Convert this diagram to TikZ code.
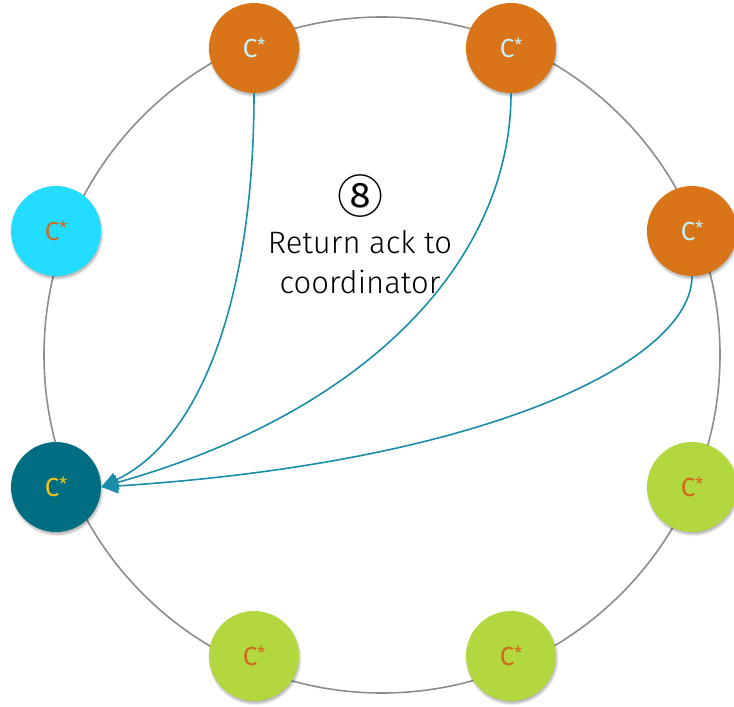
\documentclass[tikz,border=0pt]{standalone}
\usepackage{fontspec}
\setmainfont{Fira Sans}[UprightFont={* Light}]
\newfontfamily\nodefont{Fira Sans}
\newfontfamily\circfont{Noto Sans CJK SC}
\usetikzlibrary{arrows.meta,shadows.blur}

\definecolor{ringgray}{HTML}{8C8C8C}
\definecolor{nodeorange}{HTML}{D97518}
\definecolor{nodecyan}{HTML}{22DDFF}
\definecolor{nodeteal}{HTML}{006E82}
\definecolor{nodegreen}{HTML}{B3D73F}
\definecolor{txtcyan}{HTML}{C4F2FB}
\definecolor{txtorange}{HTML}{D2681B}
\definecolor{txtyellow}{HTML}{F4C21B}
\definecolor{ackline}{HTML}{1A8EA8}

% replica label: C with a small raised asterisk
\newcommand{\cstar}{C{\fontsize{18}{18}\selectfont\raisebox{0.35em}{*}}}

\tikzset{
  replica/.style={circle, minimum size=90pt, inner sep=0pt,
    font=\nodefont\fontsize{26}{26}\selectfont,
    blur shadow={shadow xshift=1pt, shadow yshift=-2.5pt,
                 shadow blur steps=6, shadow opacity=30}},
  orangenode/.style={replica, fill=nodeorange, text=txtcyan},
  cyannode/.style={replica, fill=nodecyan, text=txtorange},
  coordnode/.style={replica, fill=nodeteal, text=txtyellow},
  greennode/.style={replica, fill=nodegreen, text=txtorange},
  ack/.style={draw=ackline, line width=1.6pt,
    -{Triangle[length=17pt,width=15pt]}},
  ring/.style={draw=ringgray, line width=1.6pt},
  label/.style={align=center, text=black}
}

\begin{document}
\begin{tikzpicture}[x=1pt,y=-1pt]
  \useasboundingbox (0,0) rectangle (734,707);

  % the token ring
  \coordinate (ringc) at (382,355);
  \draw[ring] (ringc) circle[radius=338pt];

  % replicas on the ring
  \node[orangenode] (n1) at (254,48)  {\cstar};
  \node[orangenode] (n2) at (511,48)  {\cstar};
  \node[orangenode] (n3) at (692,231) {\cstar};
  \node[greennode]  (n4) at (692,487) {\cstar};
  \node[greennode]  (n5) at (511,656) {\cstar};
  \node[greennode]  (n6) at (254,656) {\cstar};
  \node[coordnode]  (co) at (56,487)  {\cstar};
  \node[cyannode]   (n8) at (56,231)  {\cstar};

  % acknowledgements sent back to the coordinator
  \draw[ack] (n1.south) .. controls (254,300) and (200,440) .. (co.east);
  \draw[ack] (n2.south) .. controls (511,255) and (375,410) .. (co.east);
  \draw[ack] (n3.south) .. controls (692,360) and (490,462) .. (co.east);

  % step label
  \node[label, font=\circfont\fontsize{46}{46}\selectfont] (step) at (360,196) {⑧};
  \node[label, font=\fontsize{31}{40}\selectfont, anchor=base] (txt) at (360,293)
    {Return ack to\\coordinator};
\end{tikzpicture}
\end{document}
